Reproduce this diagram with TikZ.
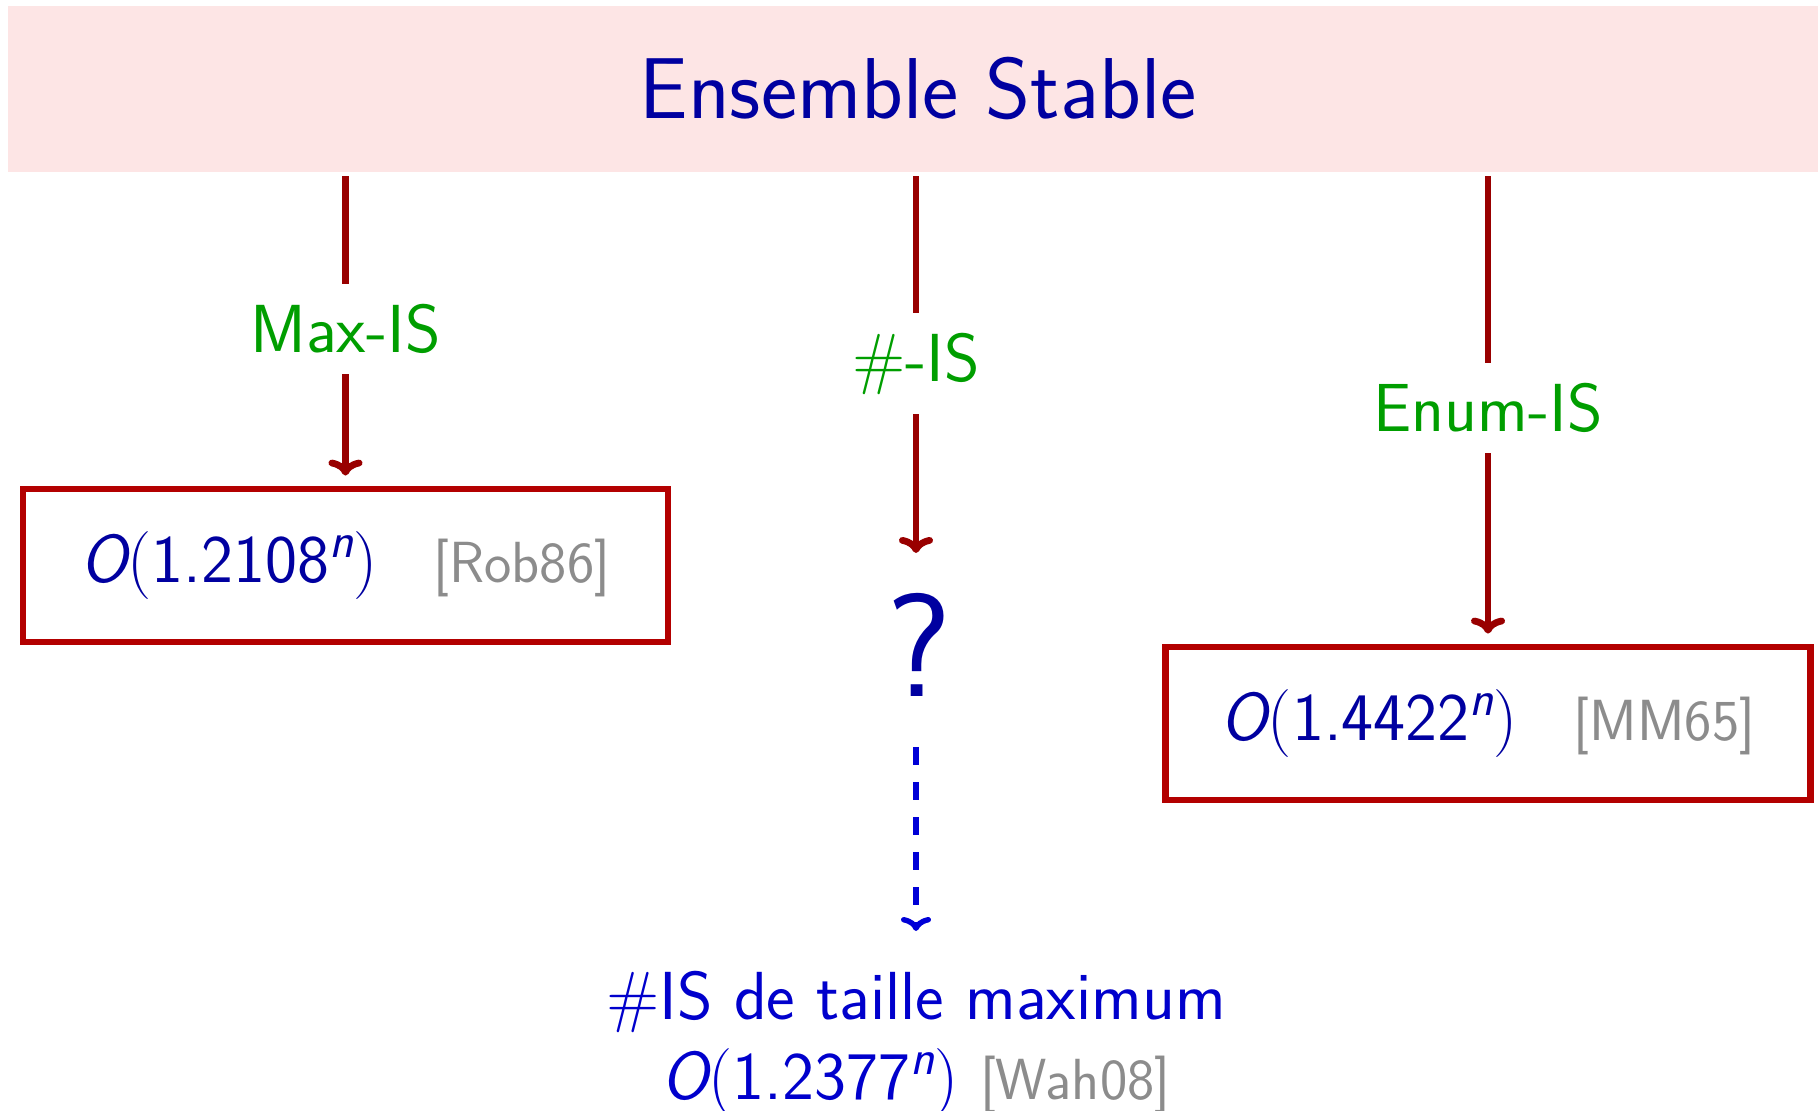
\documentclass[tikz,border=0pt]{standalone}
\usepackage{fontspec}
\usetikzlibrary{arrows.meta}

\definecolor{titleblue}{RGB}{0,0,160}
\definecolor{brightblue}{RGB}{0,0,204}
\definecolor{dashblue}{RGB}{0,0,215}
\definecolor{arrowred}{RGB}{153,0,0}
\definecolor{boxred}{RGB}{179,0,0}
\definecolor{labelgreen}{RGB}{0,158,0}
\definecolor{refgray}{RGB}{140,140,140}
\definecolor{bandpink}{RGB}{253,229,229}

% growth bound O(c^n): slanted sans letters, sans digits, roman parentheses
\newcommand{\bigO}[1]{{\slshape O}{\rmfamily(}#1\raisebox{12.5pt}{\fontsize{25}{29}\selectfont\slshape n}{\rmfamily)}}
% bibliography key, set a little smaller and in grey
\newcommand{\bibref}[1]{{\color{refgray}\fontsize{29}{35}\selectfont[#1]}}

\begin{document}
\begin{tikzpicture}[x=0.5pt,y=-0.5pt,
  banner/.style={fill=bandpink, inner sep=0pt, minimum width=905pt,
    minimum height=83pt, text=titleblue,
    font=\sffamily\fontsize{43.2}{51}\selectfont},
  resultbox/.style={draw=boxred, line width=3.4pt, minimum width=322.5pt,
    minimum height=76.5pt, text=titleblue,
    font=\sffamily\fontsize{34}{41}\selectfont},
  arrowlabel/.style={fill=white, text=labelgreen, inner xsep=4pt,
    inner ysep=10pt, font=\sffamily\fontsize{34}{41}\selectfont},
  redarrow/.style={draw=arrowred, line width=3.4pt,
    -{To[length=8pt,width=17pt]}, shorten <=2pt},
  dasharrow/.style={draw=dashblue, line width=2.7pt,
    dash pattern=on 8.8pt off 8.7pt, -{To[length=7pt,width=15pt]}},
  qmark/.style={inner sep=19pt, text=titleblue,
    font=\sffamily\fontsize{73.5}{88}\selectfont},
  outcome/.style={inner sep=0pt, align=center, text=brightblue,
    font=\sffamily\fontsize{34}{40}\selectfont}]
\useasboundingbox (0,0) rectangle (1818,1111);

% header band
\node[banner] (head) at (913,89) {\hspace*{5pt}Ensemble Stable};

% result boxes
\node[resultbox] (rob) at (345.5,565.5)
  {\bigO{1.2108}\hspace{28pt}\bibref{Rob86}};
\node[resultbox] (mm) at (1488,723.5)
  {\bigO{1.4422}\hspace{28pt}\bibref{MM65}};

% open question and the known counting bound
\node[qmark] (q) at (916,645) {\hspace{3pt}?};
\node[outcome, anchor=north] (wah) at (916,971)
  {\#IS de taille maximum\\
   \bigO{1.2377} \bibref{Wah08}};

% connectors
\draw[redarrow, shorten >=5pt] (head.south -| rob.north)
  -- node[arrowlabel] {Max-IS} (rob.north);
\draw[redarrow, shorten >=1pt] (head.south -| q.north)
  -- node[arrowlabel] {\#-IS} (q.north);
\draw[redarrow, shorten >=5pt] (head.south -| mm.north)
  -- node[arrowlabel] {Enum-IS} (mm.north);
\draw[dasharrow, shorten <=6pt, shorten >=20pt] (q.south) -- (wah.north);
\end{tikzpicture}
\end{document}
